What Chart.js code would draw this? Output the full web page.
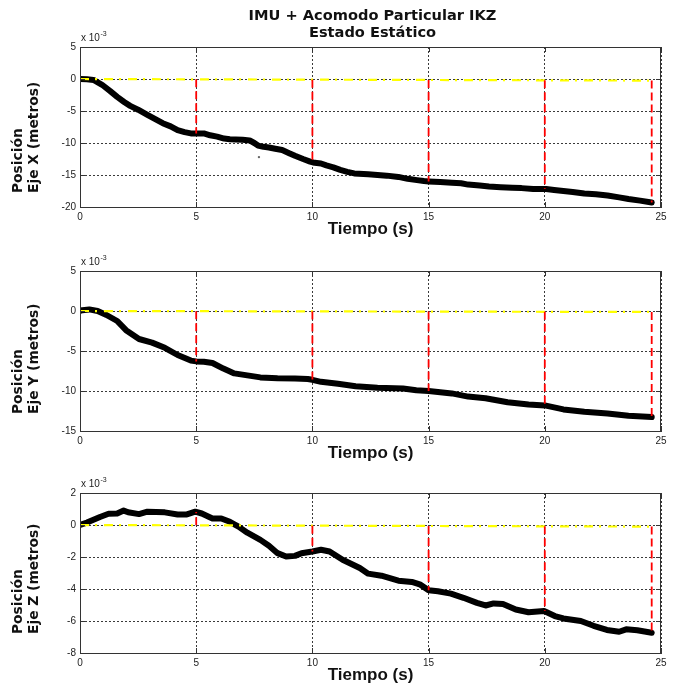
<!DOCTYPE html>
<html><head><meta charset="utf-8">
<script src="https://cdn.jsdelivr.net/npm/chart.js@4"></script>
<style>
body{margin:0;background:#fff;width:678px;height:688px;position:relative;overflow:hidden}
canvas{position:absolute;left:0}
</style></head>
<body>
<canvas id="cx" width="678" height="240" style="top:0px"></canvas>
<canvas id="cy" width="678" height="240" style="top:224px"></canvas>
<canvas id="cz" width="678" height="240" style="top:446px"></canvas>
<script>
// ---- text ----
const titleLines = ['IMU + Acomodo Particular IKZ', 'Estado Estático'];
const xLabel = 'Tiempo (s)';
const yLabelX = ['Posición', 'Eje X (metros)'];
const yLabelY = ['Posición', 'Eje Y (metros)'];
const yLabelZ = ['Posición', 'Eje Z (metros)'];
const multiplierBase = 'x 10';
const multiplierExp = '-3';

// ---- axis ranges (values in units of 1e-3 m) ----
const timeRange = [0, 25];
const timeStep = 5;
const rangeX = [-20, 5], stepX = 5;
const rangeY = [-15, 5], stepY = 5;
const rangeZ = [-8, 2],  stepZ = 2;

// ---- Eje X series ----
const tX = [0,0.3,0.58,0.95,1.3,1.6,1.9,2.16,2.5,2.9,3.2,3.56,3.9,4.2,4.5,4.77,5.0,5.33,5.6,5.9,6.2,6.45,6.7,7.0,7.3,7.5,7.66,7.9,8.13,8.4,8.7,9.0,9.25,9.6,9.9,10.1,10.37,10.6,10.9,11.2,11.5,11.8,12.0,12.4,12.8,13.2,13.7,14.1,14.5,14.8,15.0,15.5,16.0,16.4,16.7,17.2,17.6,18.1,18.6,19.0,19.5,20.06,20.4,20.8,21.2,21.7,22.2,22.7,23.2,23.6,24.1,24.6];
const vX = [0,-0.05,-0.15,-0.9,-1.9,-2.8,-3.6,-4.2,-4.8,-5.6,-6.2,-6.9,-7.4,-8.0,-8.3,-8.5,-8.5,-8.5,-8.8,-9.0,-9.3,-9.4,-9.45,-9.5,-9.6,-10.0,-10.4,-10.6,-10.7,-10.9,-11.1,-11.6,-12.0,-12.5,-12.9,-13.1,-13.2,-13.5,-13.8,-14.2,-14.5,-14.75,-14.8,-14.9,-15.0,-15.1,-15.3,-15.6,-15.8,-15.95,-16.0,-16.1,-16.2,-16.3,-16.5,-16.65,-16.8,-16.9,-17.0,-17.05,-17.2,-17.2,-17.35,-17.5,-17.65,-17.9,-18.0,-18.2,-18.5,-18.75,-19.0,-19.3];
const strayX = [{x:7.7, y:-12.2}];

// ---- Eje Y series ----
const tY = [0,0.1,0.4,0.76,1.14,1.6,1.98,2.54,3.1,3.65,4.2,4.77,5.0,5.33,5.7,6.17,6.64,7.2,7.76,8.5,9.25,9.8,10.0,10.37,11.1,11.86,12.8,13.9,14.47,15.0,16.0,16.7,17.45,18.4,19.3,20.0,20.8,21.7,22.7,23.6,24.6];
const vY = [0,0.1,0.2,0,-0.5,-1.25,-2.4,-3.5,-3.95,-4.6,-5.5,-6.2,-6.3,-6.35,-6.5,-7.2,-7.8,-8.05,-8.3,-8.4,-8.45,-8.5,-8.6,-8.85,-9.1,-9.4,-9.6,-9.7,-9.9,-10.0,-10.3,-10.7,-10.9,-11.4,-11.7,-11.8,-12.3,-12.6,-12.8,-13.1,-13.25];

// ---- Eje Z series ----
const tZ = [0,0.3,0.86,1.23,1.6,1.88,2.07,2.54,2.9,3.65,4.2,4.6,4.96,5.24,5.7,6.08,6.45,6.82,7.2,7.76,8.13,8.5,8.87,9.25,9.53,10.0,10.37,10.74,11.3,12.04,12.4,12.97,13.7,14.28,14.65,15.0,15.4,15.96,16.5,17.08,17.45,17.8,18.2,18.75,19.3,19.97,20.43,20.8,21.55,22.1,22.67,23.2,23.5,23.98,24.6];
const vZ = [0,0.15,0.5,0.7,0.72,0.9,0.8,0.68,0.83,0.79,0.66,0.66,0.83,0.72,0.41,0.41,0.2,-0.1,-0.48,-0.93,-1.3,-1.76,-1.97,-1.93,-1.76,-1.66,-1.55,-1.66,-2.17,-2.69,-3.04,-3.17,-3.48,-3.56,-3.73,-4.08,-4.14,-4.29,-4.55,-4.87,-5.03,-4.9,-4.93,-5.28,-5.45,-5.38,-5.69,-5.84,-6.0,-6.3,-6.56,-6.67,-6.52,-6.58,-6.73];

// ---- reference (yellow) lines ----
const refT = [0, 24.6];
const refX = [0, -0.25];
const refY = [0, -0.12];
const refZ = [0, -0.1];

// ---- error markers (red dashed) ----
const errT = [5, 10, 15, 20, 24.6];
const errX = [-8.5, -13.0, -16.0, -17.2, -19.3];
const errY = [-6.3, -8.6, -10.0, -11.8, -13.25];
const errZ = [0.82, -1.66, -4.08, -5.38, -6.73];

// ---- helpers ----
const pts = (t, v) => t.map((x, i) => ({x, y: v[i]}));
const refAt = (ref, t) => ref[0] + (ref[1] - ref[0]) * (t - refT[0]) / (refT[1] - refT[0]);
function errPts(ref, err) {
  const out = [];
  errT.forEach((t, i) => {
    out.push({x: t, y: refAt(ref, t)});
    out.push({x: t, y: err[i]});
    out.push({x: t, y: NaN});
  });
  return out;
}

const tickFont = {family: '"Liberation Sans Narrow", "Liberation Sans", Arial, sans-serif', size: 10};
const gridColor = '#3a3a3a';

const matlabPlugin = {
  id: 'matlab',
  afterDraw(chart, args, opts) {
    const {ctx, chartArea: a, scales} = chart;
    ctx.save();
    // frame
    ctx.strokeStyle = '#333';
    ctx.lineWidth = 1;
    ctx.setLineDash([]);
    ctx.strokeRect(Math.round(a.left) + 0.5, Math.round(a.top) + 0.5,
                   Math.round(a.right - a.left) - 1, Math.round(a.bottom - a.top));
    // inner tick marks
    const tl = 5;
    ctx.beginPath();
    scales.x.ticks.forEach(t => {
      const px = Math.round(scales.x.getPixelForValue(t.value)) + 0.5;
      ctx.moveTo(px, a.bottom); ctx.lineTo(px, a.bottom - tl);
      ctx.moveTo(px, a.top); ctx.lineTo(px, a.top + tl);
    });
    scales.y.ticks.forEach(t => {
      const py = Math.round(scales.y.getPixelForValue(t.value)) + 0.5;
      ctx.moveTo(a.left, py); ctx.lineTo(a.left + tl, py);
      ctx.moveTo(a.right, py); ctx.lineTo(a.right - tl, py);
    });
    ctx.stroke();
    // multiplier label
    ctx.fillStyle = '#222';
    ctx.textBaseline = 'middle';
    ctx.textAlign = 'left';
    ctx.font = '10px "Liberation Sans", Arial, sans-serif';
    const mx = a.left + 1, my = a.top - 9;
    ctx.fillText(multiplierBase, mx, my);
    const w = ctx.measureText(multiplierBase).width;
    ctx.font = '7px "Liberation Sans", Arial, sans-serif';
    ctx.fillText(multiplierExp, mx + w + 0.5, my - 4);
    // y label (two lines, rotated)
    ctx.fillStyle = '#111';
    ctx.font = 'bold 13.8px "DejaVu Sans", sans-serif';
    opts.ylabel.forEach((line, i) => {
      ctx.save();
      ctx.translate(opts.ylabelX[i], opts.ylabelStart);
      ctx.rotate(-Math.PI / 2);
      ctx.textAlign = 'left';
      ctx.textBaseline = 'middle';
      ctx.fillText(line, 0, 0);
      ctx.restore();
    });
    // title
    if (opts.title) {
      ctx.fillStyle = '#111';
      ctx.font = 'bold 14.6px "DejaVu Sans", sans-serif';
      ctx.textAlign = 'center';
      ctx.textBaseline = 'middle';
      const cx = (a.left + a.right) / 2 + 2;
      opts.title.forEach((line, i) => ctx.fillText(line, cx, 16.5 + i * 17));
    }
    ctx.restore();
  }
};

function makeChart(id, t, v, ref, err, range, step, ylabel, yStart, title, stray) {
  const datasets = [
    {data: errPts(ref, err), borderColor: '#ff0000', borderWidth: 1.8, borderDash: [8, 4],
     pointRadius: 0, spanGaps: false, order: 1},
    {data: pts(refT, ref), borderColor: '#ffff00', borderWidth: 2.2, borderDash: [9, 6, 2, 7],
     pointRadius: 0, order: 2},
    {data: pts(t, v), borderColor: '#000', borderWidth: 6, pointRadius: 0, tension: 0,
     borderJoinStyle: 'round', borderCapStyle: 'round', order: 3}
  ];
  if (stray) datasets.push({data: stray, showLine: false, pointRadius: 1.2,
    pointBackgroundColor: '#666', pointBorderWidth: 0, order: 4});
  return new Chart(document.getElementById(id), {
    type: 'line',
    data: {datasets},
    plugins: [matlabPlugin],
    options: {
      responsive: false,
      animation: false,
      events: [],
      devicePixelRatio: 1,
      layout: {padding: {top: 47, right: 17, bottom: 0, left: 0}},
      plugins: {
        legend: {display: false},
        tooltip: {enabled: false},
        matlab: {ylabel, ylabelX: [18, 34], ylabelStart: yStart, title}
      },
      scales: {
        x: {
          type: 'linear', min: timeRange[0], max: timeRange[1],
          afterFit(s) { s.height = 33; },
          ticks: {stepSize: timeStep, padding: 4, font: tickFont, color: '#222', maxRotation: 0, autoSkip: false},
          grid: {color: gridColor, lineWidth: 1, drawTicks: false},
          border: {display: true, color: '#333', width: 1, dash: [2, 2]},
          title: {display: true, text: xLabel, color: '#111', padding: 0,
                  font: {family: '"Liberation Sans", Arial, sans-serif', weight: 'bold', size: 17}}
        },
        y: {
          type: 'linear', min: range[0], max: range[1],
          afterFit(s) { s.width = 80; },
          ticks: {stepSize: step, padding: 4, font: tickFont, color: '#222', autoSkip: false},
          grid: {color: gridColor, lineWidth: 1, drawTicks: false},
          border: {display: true, color: '#333', width: 1, dash: [2, 2]}
        }
      }
    }
  });
}

makeChart('cx', tX, vX, refX, errX, rangeX, stepX, yLabelX, 193, titleLines, strayX);
makeChart('cy', tY, vY, refY, errY, rangeY, stepY, yLabelY, 190, null, null);
makeChart('cz', tZ, vZ, refZ, errZ, rangeZ, stepZ, yLabelZ, 188, null, null);
</script>
</body></html>
